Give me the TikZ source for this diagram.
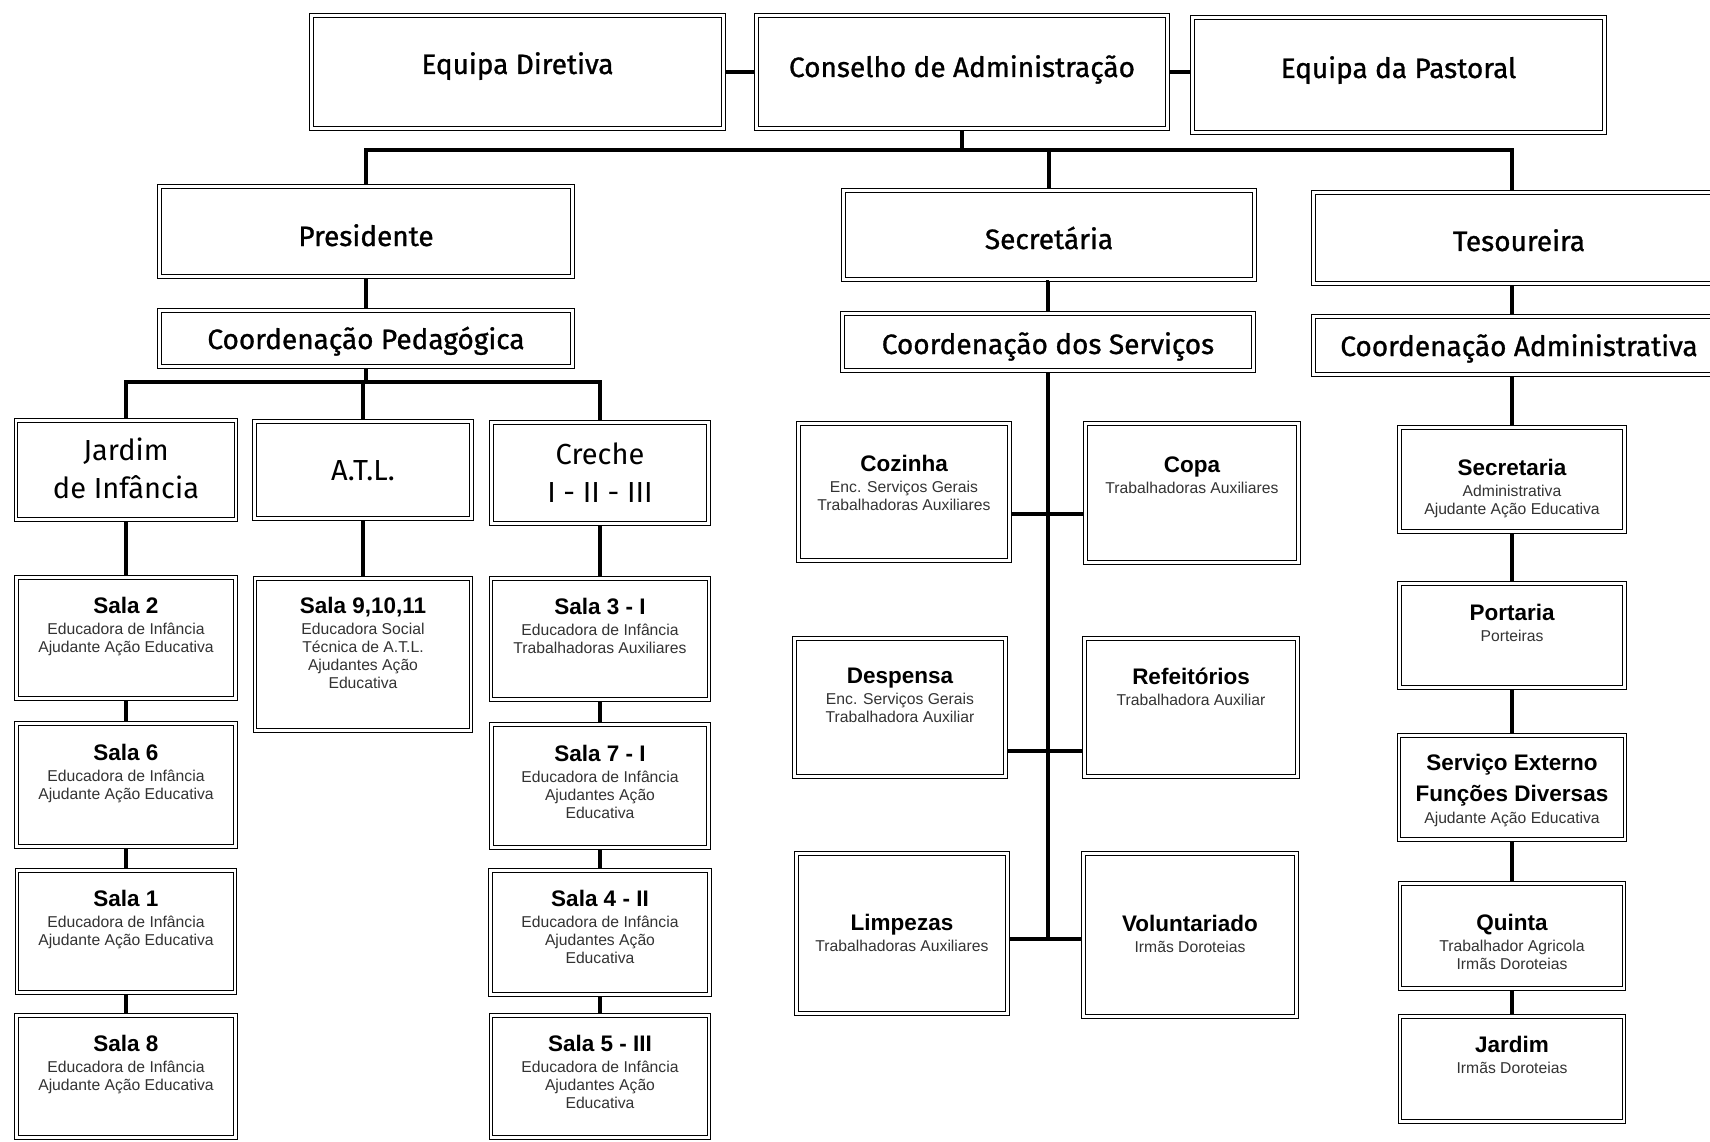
\documentclass[tikz,border=0pt]{standalone}
\usepackage{fontspec}
\setmainfont{Fira Sans}
\newfontfamily\subfam{Liberation Sans}
\newfontfamily\hdrfam{Fira Sans}[FakeBold=1]
\usetikzlibrary{calc}
\definecolor{subgray}{HTML}{333333}
\newcommand\hdrF{\hdrfam\fontsize{28}{33}\selectfont}
\newcommand\midF{\fontsize{29}{38}\selectfont\lineskiplimit=-100pt}
\newcommand\sF{\subfam\fontsize{15.7}{18}\selectfont\lineskiplimit=-100pt}
\newcommand\ttl[1]{{\bfseries\fontsize{22.5}{25}\selectfont\color{black}#1}}
\tikzset{
  box/.style={draw=black, line width=1.3pt, double=white, double distance=2.2pt,
    inner sep=0pt, outer sep=2.4pt, align=center, fill=white},
  % width, height, first baseline from top, distance first->last baseline
  dims/.style n args={4}{minimum width={#1-5}, minimum height={#2-5},
    text height={#3+#4-2.5}, text depth={#2-#3-#4-2.5}},
  hdr/.style={box, font=\hdrF},
  mid/.style={box, font=\midF},
  sub/.style={box, font=\sF, text=subgray},
  conn/.style={line width=4.2pt, line join=miter}
}
\begin{document}
\begin{tikzpicture}[x=1pt, y=-1pt]
\fill[white] (0,0) rectangle (1710,1142);
\useasboundingbox (0,0) rectangle (1710,1142);

% top row
\node[hdr, dims={417}{118}{61}{0}] (ED) at (517.5,72) {Equipa Diretiva};
\node[hdr, dims={416}{118}{64}{0}] (CA) at (962,72) {Conselho de Administração};
\node[hdr, dims={417}{120}{63}{0}] (EP) at (1398.5,75) {Equipa da Pastoral};

% second row
\node[hdr, dims={418}{95}{62}{0}] (Pres) at (366,231.5) {Presidente};
\node[hdr, dims={416}{94}{61}{0}] (Sec) at (1049,235) {Secretária};
\node[hdr, dims={416}{96}{61}{0}] (Tes) at (1519,238) {Tesoureira};

% coordination row
\node[hdr, dims={418}{61}{41}{0}] (CP) at (366,338.5) {Coordenação Pedagógica};
\node[hdr, dims={416}{62}{43}{0}] (CS) at (1048,342) {Coordenação dos Serviços};
\node[hdr, dims={416}{63}{42}{0}] (CAd) at (1519,345.5) {Coordenação Administrativa};

% pedagogic branches
\node[mid, dims={225}{104}{42}{38}] (JI) at (126,470) {Jardim\\de Infância};
\node[mid, dims={222}{102}{61}{0}] (ATL) at (363,470) {A.T.L.};
\node[mid, dims={222}{106}{45}{37}] (CR) at (600,473) {Creche\\I - II - III};

% Jardim de Infancia rooms
\node[sub, dims={224}{126}{38}{39}] (S2) at (126,638) {\ttl{Sala 2}\\[3pt]Educadora de Infância\\Ajudante Ação Educativa};
\node[sub, dims={224}{128}{39}{39}] (S6) at (126,785) {\ttl{Sala 6}\\[3pt]Educadora de Infância\\Ajudante Ação Educativa};
\node[sub, dims={223}{127}{38}{39}] (S1) at (126,931.5) {\ttl{Sala 1}\\[3pt]Educadora de Infância\\Ajudante Ação Educativa};
\node[sub, dims={224}{127}{38}{39}] (S8) at (126,1076.5) {\ttl{Sala 8}\\[3pt]Educadora de Infância\\Ajudante Ação Educativa};

% ATL room
\node[sub, dims={221}{157}{37}{75}] (S9) at (363,654.5) {\ttl{Sala 9,10,11}\\[3pt]Educadora Social\\Técnica de A.T.L.\\Ajudantes Ação\\Educativa};

% Creche rooms
\node[sub, dims={223}{126}{38}{39}] (S3) at (600,639) {\ttl{Sala 3 - I}\\[3pt]Educadora de Infância\\Trabalhadoras Auxiliares};
\node[sub, dims={222}{128}{39}{57}] (S7) at (600,786) {\ttl{Sala 7 - I}\\[3pt]Educadora de Infância\\Ajudantes Ação\\Educativa};
\node[sub, dims={224}{129}{38}{57}] (S4) at (600,932.5) {\ttl{Sala 4 - II}\\[3pt]Educadora de Infância\\Ajudantes Ação\\Educativa};
\node[sub, dims={223}{127}{38}{57}] (S5) at (600,1076.5) {\ttl{Sala 5 - III}\\[3pt]Educadora de Infância\\Ajudantes Ação\\Educativa};

% services
\node[sub, dims={216}{142}{50}{39}] (Coz) at (904,492) {\ttl{Cozinha}\\[3pt]Enc. Serviços Gerais\\Trabalhadoras Auxiliares};
\node[sub, dims={218}{144}{51}{21}] (Copa) at (1192,493) {\ttl{Copa}\\[3pt]Trabalhadoras Auxiliares};
\node[sub, dims={216}{143}{47.5}{39}] (Desp) at (900,707.5) {\ttl{Despensa}\\[3pt]Enc. Serviços Gerais\\Trabalhadora Auxiliar};
\node[sub, dims={218}{143}{48.5}{21}] (Ref) at (1191,707.5) {\ttl{Refeitórios}\\[3pt]Trabalhadora Auxiliar};
\node[sub, dims={216}{165}{79.5}{21}] (Limp) at (902,933.5) {\ttl{Limpezas}\\[3pt]Trabalhadoras Auxiliares};
\node[sub, dims={218}{168}{80.5}{21}] (Vol) at (1190,935) {\ttl{Voluntariado}\\[3pt]Irmãs Doroteias};

% administrative
\node[sub, dims={230}{109}{50}{39}] (Secr) at (1512,479.5) {\ttl{Secretaria}\\[3pt]Administrativa\\Ajudante Ação Educativa};
\node[sub, dims={230}{109}{39}{21}] (Port) at (1512,635.5) {\ttl{Portaria}\\[3pt]Porteiras};
\node[sub, dims={231}{109}{37}{53.6}] (SE) at (1512,787.5) {\ttl{Serviço Externo}\\[13.6pt]\ttl{Funções Diversas}\\[4pt]Ajudante Ação Educativa};
\node[sub, dims={229}{110}{49}{39}] (Quin) at (1512,936) {\ttl{Quinta}\\[3pt]Trabalhador Agricola\\Irmãs Doroteias};
\node[sub, dims={229}{110}{38}{21}] (JardA) at (1512,1069) {\ttl{Jardim}\\[3pt]Irmãs Doroteias};

% helper rows
\coordinate (barA) at (0,150);
\coordinate (barB) at (0,382);
\coordinate (r1) at (0,514);
\coordinate (r2) at (0,751);
\coordinate (r3) at (0,939);

% connectors: top
\draw[conn] (ED.east) -- (ED.east -| CA.west);
\draw[conn] (CA.east) -- (CA.east -| EP.west);
\draw[conn] (CA.south) -- (CA.south |- barA);
\draw[conn] (Pres.north) -- (Pres.north |- barA) -- (Secr.north |- barA) -- (Secr.north |- Tes.north);
\draw[conn] (Sec.north) -- (Sec.north |- barA);
\draw[conn] (Pres.south) -- (CP.north);
\draw[conn] (Sec.south) -- (Sec.south -| CS.north) -- (CS.north);
\draw[conn] (Secr.north |- Tes.south) -- (Secr.north |- CAd.north);

% pedagogic
\draw[conn] (CP.south) -- (CP.south |- barB);
\draw[conn] (JI.north) -- (JI.north |- barB) -- (CR.north |- barB) -- (CR.north);
\draw[conn] (ATL.north) -- (ATL.north |- barB);
\draw[conn] (JI.south) -- (S2.north);
\draw[conn] (S2.south) -- (S6.north);
\draw[conn] (S6.south) -- (S1.north);
\draw[conn] (S1.south) -- (S8.north);
\draw[conn] (ATL.south) -- (S9.north);
\draw[conn] (CR.south) -- (S3.north);
\draw[conn] (S3.south) -- (S7.north);
\draw[conn] (S7.south) -- (S4.north);
\draw[conn] (S4.south) -- (S5.north);

% services
\draw[conn] (CS.south) -- (CS.south |- r3);
\draw[conn] (Coz.east |- r1) -- (Copa.west |- r1);
\draw[conn] (Desp.east |- r2) -- (Ref.west |- r2);
\draw[conn] (Limp.east |- r3) -- (Vol.west |- r3);

% administrative
\draw[conn] (Secr.north |- CAd.south) -- (Secr.north);
\draw[conn] (Secr.south) -- (Port.north);
\draw[conn] (Port.south) -- (SE.north);
\draw[conn] (SE.south) -- (Quin.north);
\draw[conn] (Quin.south) -- (JardA.north);
\end{tikzpicture}
\end{document}
